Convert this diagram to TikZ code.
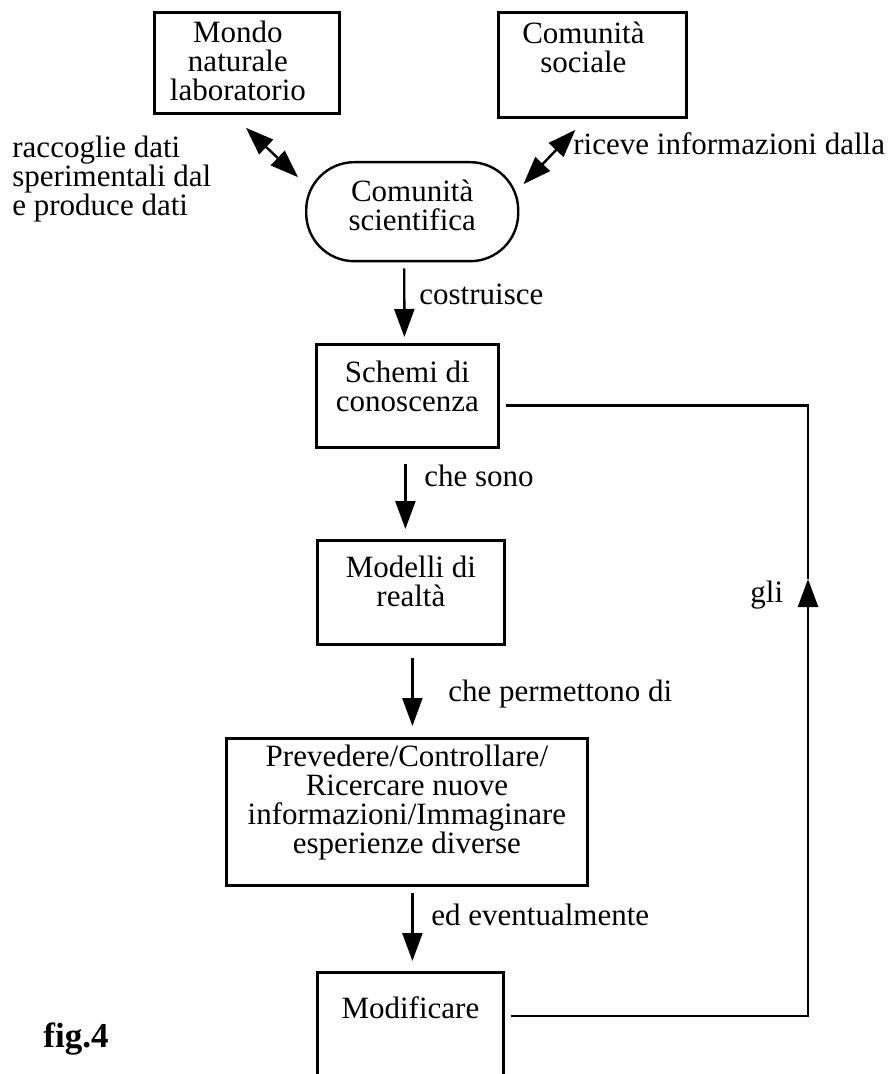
\documentclass[tikz,border=0pt]{standalone}
\usepackage{fontspec}
\setmainfont{Liberation Serif}
\usepackage{tikz}
\usetikzlibrary{arrows.meta, calc}

\tikzset{
  box/.style={draw, line width=1.4pt, inner sep=0pt, anchor=north west},
  boxtext/.style={anchor=north, align=center, inner sep=0pt},
  pill/.style={draw, line width=1.2pt, rounded corners=24pt, align=center, inner sep=0pt, anchor=north west},
  note/.style={anchor=base west, inner sep=0pt, align=left},
  link/.style={-{Triangle[length=14pt, width=10pt]}, line width=1.2pt},
  twoway/.style={{Triangle[length=14pt, width=10pt]}-{Triangle[length=14pt, width=10pt]}, line width=1.2pt},
  plain/.style={line width=1.2pt}
}

\begin{document}
\begin{tikzpicture}[x=0.5pt, y=-0.5pt, every node/.style={font=\fontsize{15.5pt}{14.5pt}\selectfont}]
\clip (0,0) rectangle (889,1074);
% top row
\node[box, minimum width=92.5pt, minimum height=50.5pt, label={[boxtext, xshift=-4.5pt, yshift=-5pt]north:{Mondo\\naturale\\laboratorio}}] (mondo) at (153,11) {};
\node[box, minimum width=94pt, minimum height=52.5pt, label={[boxtext, xshift=-4.5pt, yshift=-5.5pt]north:{Comunità\\sociale}}] (sociale) at (497,11) {};
\node[pill, minimum width=106pt, minimum height=49.5pt, text depth=6pt] (scient) at (305,161) {Comunità\\scientifica};
% main column
\node[box, minimum width=91pt, minimum height=51.5pt, label={[boxtext, yshift=-9pt]north:{Schemi di\\conoscenza}}] (schemi) at (315,343) {};
\node[box, minimum width=93.5pt, minimum height=52pt, label={[boxtext, yshift=-8.5pt]north:{Modelli di\\realtà}}] (modelli) at (316,539) {};
\node[box, minimum width=180.5pt, minimum height=73.5pt, label={[boxtext, yshift=-4pt]north:{Prevedere/Controllare/\\Ricercare nuove\\informazioni/Immaginare\\esperienze diverse}}] (prev) at (225,737) {};
\node[box, minimum width=93pt, minimum height=75pt, label={[boxtext, yshift=-12.5pt]north:{Modificare}}] (modif) at (316,971) {};
% texts beside the arrows
\node[note, anchor=north west] (raccoglie) at (12,136) {raccoglie dati\\sperimentali dal\\e produce dati};
\node[note] (riceve) at (573,155) {riceve informazioni dalla};
\node[note] (costruisce) at (419,305) {costruisce};
\node[note] (chesono) at (424,486) {che sono};
\node[note] (permettono) at (448,701) {che permettono di};
\node[note] (eventualmente) at (431,925) {ed eventualmente};
\node[note] (gli) at (750,602) {gli};
\node[note, font=\fontsize{17.5pt}{17.5pt}\selectfont\bfseries] (fig) at (43,1047) {fig.4};
% connectors
\draw[twoway] ($(mondo.south)+(-1,13)$) -- ($(scient.west)+(-7,-34.5)$);
\draw[twoway] ($(sociale.south)+(-17,11)$) -- ($(scient.east)+(4,-27.5)$);
\draw[link] ($(scient.south)+(-8,6)$) -- ($(schemi.north)+(-3,-6)$);
\draw[link] ($(schemi.south)+(-2,15)$) -- ($(modelli.north)+(-5.5,-10)$);
\draw[link] ($(modelli.south)+(1.5,12)$) -- ($(prev.north)+(5.5,-11)$);
\draw[link] ($(prev.south)+(5.5,6)$) -- ($(modif.north)+(2,-10)$);
% feedback loop
\coordinate (gliarrow) at (808,579);
\draw[link] ($(modif.north east)+(6,45)$) -| (gliarrow);
\draw[plain] (gliarrow) |- ($(schemi.east)+(6,9.5)$);
\end{tikzpicture}
\end{document}
